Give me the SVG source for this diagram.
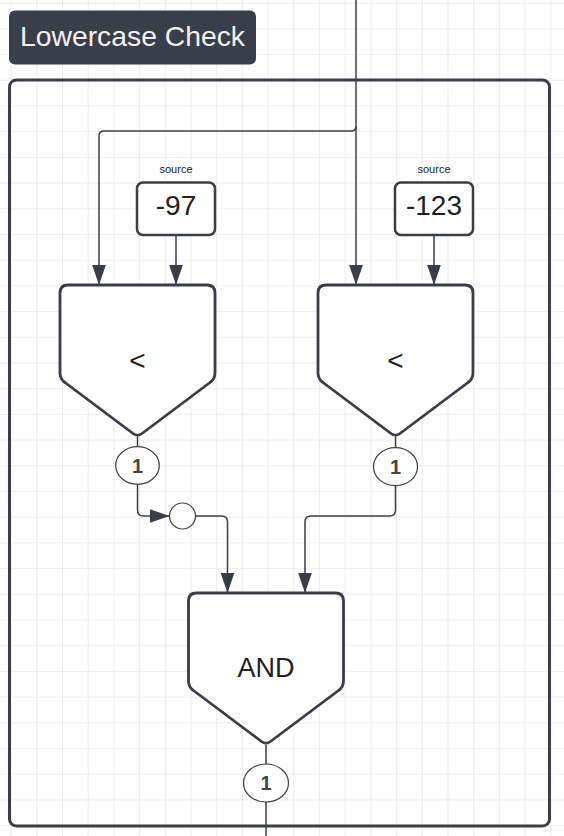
<svg xmlns="http://www.w3.org/2000/svg" width="564" height="836" viewBox="0 0 564 836">
<style>
.node{fill:#ffffff;stroke:#3b3e46;stroke-width:2.8;stroke-linejoin:round}
.src{fill:#ffffff;stroke:#3b3e46;stroke-width:2.5}
.conn{fill:none;stroke:#3b3e46;stroke-width:1.5}
.badge{fill:#ffffff;stroke:#3b3e46;stroke-width:1.2}
.t{font-family:"Liberation Sans",Arial,sans-serif;fill:#222;text-anchor:middle}
.bt{font-family:"Liberation Sans",Arial,sans-serif;fill:#444;text-anchor:middle;font-weight:bold;font-size:20px}
</style>
<defs>
<pattern id="grid" patternUnits="userSpaceOnUse" x="10.6" y="2.7" width="25.7" height="25.7">
<path d="M0,0 L25.7,0 M0,0 L0,25.7" fill="none" stroke="#dcdcdc" stroke-width="1"/>
</pattern>
<marker id="arr" markerUnits="userSpaceOnUse" markerWidth="20" markerHeight="14" viewBox="0 0 19 13" refX="19" refY="6.5" orient="auto">
<path d="M0,0 L19,6.5 L0,13 Z" fill="#3b3e46"/>
</marker>
<path id="gate" d="M0,8 Q0,0 8,0 L147,0 Q155,0 155,8 L155,88 Q155,94 150,97.5 L82,148.5 Q77.5,152 73,148.5 L5,97.5 Q0,94 0,88 Z"/>
</defs>
<rect x="0" y="0" width="564" height="836" fill="#ffffff"/>
<rect x="0" y="0" width="564" height="836" fill="url(#grid)"/>

<g id="title">
<rect x="9" y="10.5" width="247" height="54" rx="6" fill="#3a3e48"/>
<text x="132.5" y="46" font-family="Liberation Sans, Arial, sans-serif" font-size="28.3" fill="#f2f2f2" text-anchor="middle">Lowercase Check</text>
</g>

<g id="container">
<rect x="9.5" y="80" width="540" height="746" rx="7" fill="none" stroke="#3b3e46" stroke-width="3"/>
</g>

<g id="connectors">
<path class="conn" d="M356,0 L356,285" marker-end="url(#arr)"/>
<path class="conn" d="M356,126 Q356,131 351,131 L104,131 Q99,131 99,136 L99,285" marker-end="url(#arr)"/>
<path class="conn" d="M176,235 L176,285" marker-end="url(#arr)"/>
<path class="conn" d="M434,235 L434,285" marker-end="url(#arr)"/>
<path class="conn" d="M137.5,437 L137.5,447"/>
<path class="conn" d="M137.5,484 L137.5,510 Q137.5,516 143.5,516 L169.5,516" marker-end="url(#arr)"/>
<path class="conn" d="M195.5,516 L221.5,516 Q227.5,516 227.5,522 L227.5,593" marker-end="url(#arr)"/>
<path class="conn" d="M395.5,437 L395.5,448"/>
<path class="conn" d="M395.5,486 L395.5,510 Q395.5,516 389.5,516 L311,516 Q305,516 305,522 L305,593" marker-end="url(#arr)"/>
<path class="conn" d="M266,745 L266,764"/>
<path class="conn" d="M266,802 L266,836"/>
</g>

<g id="src97">
<text class="t" x="176" y="172.5" font-size="11" fill="#333">source</text>
<rect class="src" x="137" y="182.5" width="78" height="52.5" rx="6"/>
<text class="t" x="176" y="215" font-size="28">-97</text>
</g>

<g id="src123">
<text class="t" x="434" y="172.5" font-size="11" fill="#333">source</text>
<rect class="src" x="395" y="182.5" width="78" height="52.5" rx="6"/>
<text class="t" x="434" y="215" font-size="28">-123</text>
</g>

<g id="lt1">
<use href="#gate" class="node" transform="translate(60,285)"/>
<text class="t" x="137.5" y="369.5" font-size="28">&lt;</text>
</g>

<g id="lt2">
<use href="#gate" class="node" transform="translate(318,285)"/>
<text class="t" x="395.5" y="369.5" font-size="28">&lt;</text>
</g>

<g id="badge1">
<ellipse class="badge" cx="137.5" cy="465.5" rx="21.8" ry="18.8"/>
<text class="bt" x="137.5" y="472.5">1</text>
</g>

<g id="badge2">
<ellipse class="badge" cx="395.5" cy="466.7" rx="22" ry="19"/>
<text class="bt" x="395.5" y="473.7">1</text>
</g>

<g id="not">
<circle class="badge" cx="182.5" cy="516" r="13"/>
</g>

<g id="and">
<use href="#gate" class="node" transform="translate(188.5,593)"/>
<text class="t" x="266" y="677" font-size="27">AND</text>
</g>

<g id="badge3">
<ellipse class="badge" cx="266" cy="783" rx="22.5" ry="19"/>
<text class="bt" x="266" y="790">1</text>
</g>
</svg>
